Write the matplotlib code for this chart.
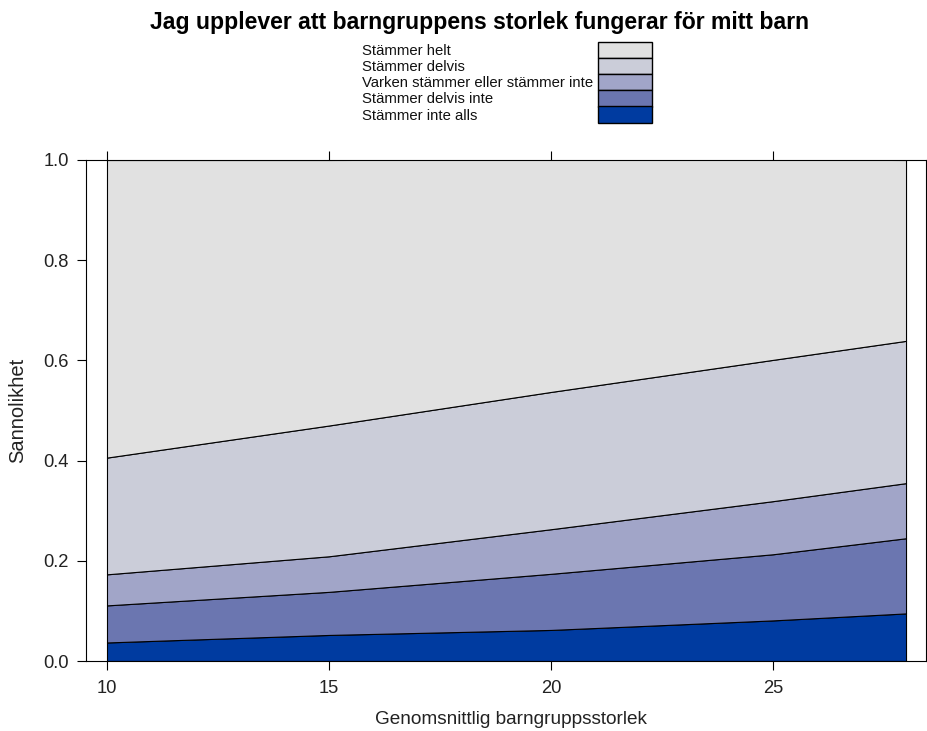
import numpy as np
import matplotlib
matplotlib.use("Agg")
import matplotlib.pyplot as plt
from matplotlib.patches import Rectangle

plt.rcParams['font.family'] = ['Liberation Sans', 'DejaVu Sans']

# average group size (x) and probabilities per answer
storlek = [10, 15, 20, 25, 28]
inte_alls = [0.037, 0.052, 0.062, 0.081, 0.095]
delvis_inte = [0.074, 0.086, 0.112, 0.132, 0.150]
varken = [0.062, 0.071, 0.089, 0.106, 0.110]
delvis = [0.233, 0.261, 0.274, 0.282, 0.284]
helt = [0.594, 0.530, 0.464, 0.400, 0.361]

labels = ['Stämmer helt', 'Stämmer delvis', 'Varken stämmer eller stämmer inte',
          'Stämmer delvis inte', 'Stämmer inte alls']
colors = ['#e1e1e1', '#cbcdd9', '#a1a5c8', '#6b76b0', '#003ba0']

W, H = 927, 731
fig = plt.figure(figsize=(W / 100, H / 100), dpi=100)

def fx(px):
    return px / W

def fy(py):
    return 1 - py / H

ax = fig.add_axes([fx(86), fy(661), fx(926) - fx(86), fy(160) - fy(661)])

# stack from bottom (inte alls) to top (helt)
ax.stackplot(storlek, inte_alls, delvis_inte, varken, delvis, helt,
             colors=colors[::-1], edgecolor='black', linewidth=0.8)

ax.set_xlim(9.527, 28.45)
ax.set_ylim(0, 1)
ax.set_xticks([10, 15, 20, 25])
ax.set_yticks([0, 0.2, 0.4, 0.6, 0.8, 1.0])
ax.set_yticklabels(['0.0', '0.2', '0.4', '0.6', '0.8', '1.0'])
ax.tick_params(direction='out', length=6.5, width=0.8, labelsize=13.2, colors='black',
               labelcolor='#222222', top=True, right=False)
ax.tick_params(axis='y', pad=6)
ax.tick_params(axis='x', pad=7)
for s in ax.spines.values():
    s.set_linewidth(0.8)

fig.text(fx(511), fy(720), 'Genomsnittlig barngruppsstorlek', ha='center', va='center',
         fontsize=13.7, color='#222222')
fig.text(fx(18), fy(410), 'Sannolikhet', ha='center', va='center', rotation=90,
         fontsize=14.5, color='#222222')

fig.text(fx(479), fy(23), 'Jag upplever att barngruppens storlek fungerar för mitt barn',
         ha='center', va='center', fontsize=16.6, fontweight='bold')

# legend: text on the left, colour boxes on the right
box_top = 41.7
box_h = 16.2
for i, (lab, c) in enumerate(zip(labels, colors)):
    yc = box_top + box_h * (i + 0.5) + 1
    fig.text(fx(362), fy(yc), lab, ha='left', va='center', fontsize=10.7, color='#111111')
    fig.add_artist(Rectangle((fx(598), fy(box_top + box_h * (i + 1))),
                             fx(652) - fx(598), box_h / H,
                             transform=fig.transFigure, facecolor=c,
                             edgecolor='black', linewidth=1))

fig.savefig('out.png', dpi=100)
